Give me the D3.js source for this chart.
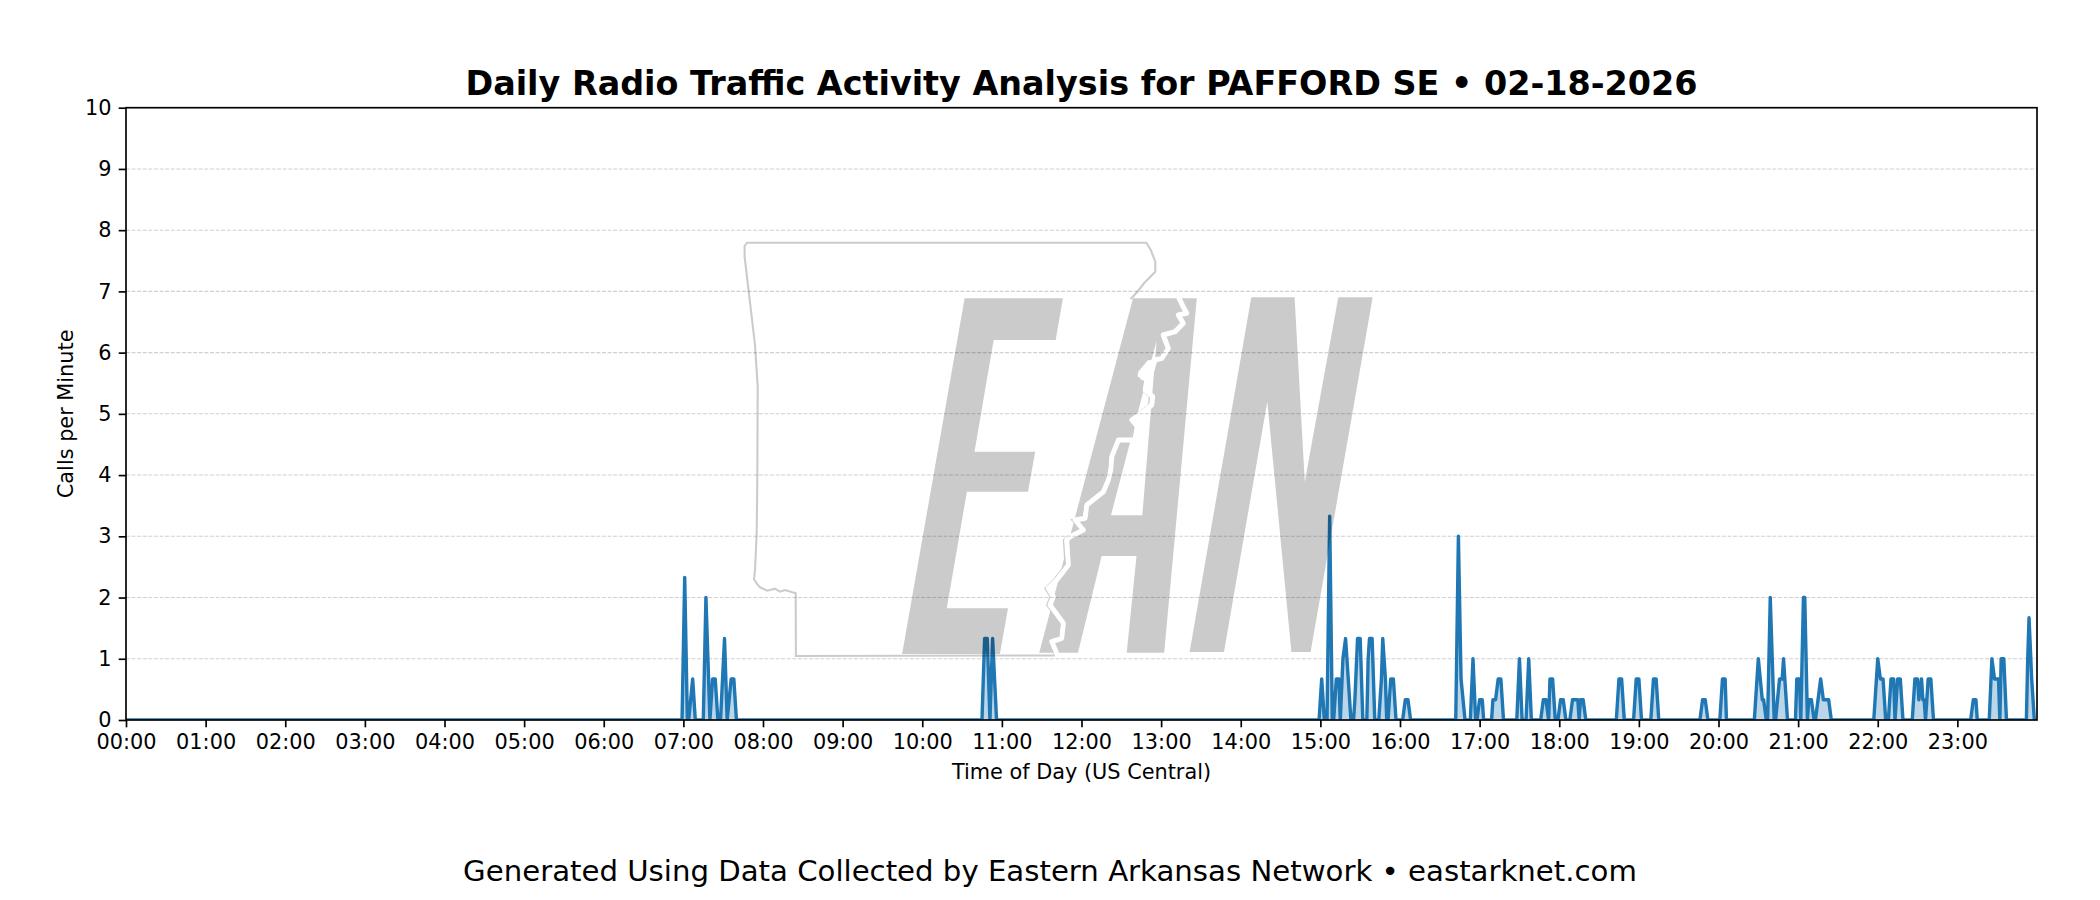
<!DOCTYPE html>
<html><head><meta charset="utf-8">
<script src="https://cdnjs.cloudflare.com/ajax/libs/d3/7.9.0/d3.min.js"></script>
<style>html,body{margin:0;padding:0;background:#fff}svg{display:block}text{font-family:"DejaVu Sans",sans-serif;fill:#000}</style>
</head><body><svg id="c" width="2100" height="900"></svg>
<script>
const titleText="Daily Radio Traffic Activity Analysis for PAFFORD SE \u2022 02-18-2026";
const footerText="Generated Using Data Collected by Eastern Arkansas Network \u2022 eastarknet.com";
const xLabel="Time of Day (US Central)";
const yLabel="Calls per Minute";
const hourTicks=d3.range(0,24);
const yTicks=d3.range(0,11);
// minutes since midnight, and calls per minute at that minute
const minutes=[0,419,421,423,424,427,429,435,437,440,442,444,446,448,451,453,456,458,460,
645,647,649,651,653,656,
899,901,903,905,907,909,910,912,914,915,917,919,921,923,925,926,928,930,932,935,936,937,939,941,944,946,947,949,950,951,953,955,957,
962,964,966,968,1002,1004,1006,1009,1013,1015,1017,1018,1020,1022,1023,1029,1030,1032,1034,1036,1038,
1048,1050,1052,1055,1057,1059,1066,1068,1070,1072,1073,1075,1077,1079,1081,1083,1085,1088,1090,1092,1094,1095,1096,1098,1100,
1123,1125,1127,1129,1136,1138,1140,1142,1149,1151,1153,1155,1186,1188,1190,1192,1201,1203,1205,1206,
1227,1230,1233,1234,1236,1237,1239,1242,1243,1246,1248,1249,1252,1258,1259,1261,1262,1264,1265,1267,1268,1270,1272,1273,1275,1277,1279,1281,1283,1285,
1317,1320,1322,1324,1326,1328,1330,1332,1333,1335,1337,1339,1346,1348,1350,1351,1353,1354,1355,1356,1358,1360,1362,
1390,1392,1394,1395,1404,1406,1408,1410,1411,1412,1413,1415,1417,1432,1433,1434,1436,1438,1439];
const callsPerMinute=[0,0,2.33,0,0,0.67,0,0,2,0,0.67,0.67,0,0,1.33,0,0.67,0.67,0,
0,1.33,1.33,0,1.33,0,
0,0.67,0,0,3.33,0,0,0.67,0.67,0,1,1.33,0.67,0,0,0.33,1.33,1.33,0,0,1,1.33,1.33,0,0,0.67,1.33,0.67,0,0,0.67,0.67,0,
0,0.33,0.33,0,0,3,0.67,0,0,1,0,0,0.33,0.33,0,0,0.33,0.33,0.67,0.67,0,
0,1,0,0,1,0,0,0.33,0.33,0,0.67,0.67,0,0,0.33,0.33,0,0,0.33,0.33,0.33,0,0.33,0.33,0,
0,0.67,0.67,0,0,0.67,0.67,0,0,0.67,0.67,0,0,0.33,0.33,0,0,0.67,0.67,0,
0,1,0.33,0.33,0,0,2,0,0,0.67,0.67,1,0,0,0.67,0.67,0,2,2,0,0.33,0.33,0,0,0.33,0.67,0.33,0.33,0.33,0,
0,1,0.67,0.67,0,0,0.67,0.67,0,0.67,0.67,0,0,0.67,0.67,0.33,0.67,0.33,0.33,0,0.67,0.67,0,
0,0.33,0.33,0,0,1,0.67,0.67,0.67,0,1,1,0,0,1,1.67,0.67,0,0];
// Watermark outline, in page pixels
const letterE=[[964.6,298.3],[1062.9,298.3],[1055.7,340],[993.7,340],[974.5,451.7],[1035.2,451.7],[1028,491.7],[966.9,491.7],[946.8,608.3],[1008,608.3],[999.9,654],[902.1,654]];
const letterA=[[1133,298.3],[1196.8,298.3],[1164.2,652.7],[1126.7,652.7],[1136.5,556],[1101.7,556],[1078,652.7],[1039.2,652.7]];
const letterACounter=[[1156.6,340.7],[1142.3,515.3],[1111,515.3]];
const letterN=[[1251.3,297.3],[1294.6,297.3],[1304.8,481.7],[1338.3,297.3],[1372.7,297.3],[1310.6,652],[1291.4,652],[1267.3,401.7],[1224,652],[1189.6,652]];
const river=[[1178.3,296.7],[1184,308.3],[1186.7,313.3],[1178.3,315],[1183.3,323.3],[1175,331.7],[1163.3,335],[1168.3,348.3],[1161.7,358.3],[1155,360],[1150,363.3],[1140,375],[1146.7,380],[1145,390],[1152.7,396.7],[1151.7,405],[1143.3,411.7],[1131.7,420],[1137.3,426.7],[1135,440],[1118.3,440],[1111.7,456.7],[1110.7,470],[1108.3,480],[1103.3,491.7],[1086.7,505],[1085,518.3],[1075,520],[1083.3,530],[1070,536.7],[1066.7,540],[1068.3,565],[1056.7,580],[1048.3,588.3],[1053.3,596.7],[1050,605],[1063.3,623.3],[1061.7,638.3],[1051.7,641.7],[1056.7,653.3]];
const lake=[[1148,360],[1157,362],[1152,378],[1141,380],[1138,372]];
const stateWest=[[1054.8,655.5],[795.9,656],[795.7,593.3],[785,590],[780,591.7],[775,588.7],[767.3,590.7],[760,587.3],[756.7,583.3],[754,579.3],[755,570],[756.7,533],[757.3,480],[757.7,386.7],[755,345],[751.3,313.3],[744.6,256.7],[744.6,246],[747,242.7],[1146.3,242.7],[1150.8,250],[1155.3,261.7],[1155.3,271.7],[1144,283.3],[1137.4,291.7],[1130.7,299]];

const m={l:126,r:2037,t:107.7,b:720};
const svg=d3.select("#c");
const x=d3.scaleLinear().domain([0,1440]).range([m.l,m.r]);
const y=d3.scaleLinear().domain([0,10]).range([m.b,m.t]);
const series=minutes.map((t,i)=>({t,v:callsPerMinute[i]}));
const defs=svg.append("defs");
defs.append("clipPath").attr("id","plot").append("rect").attr("x",m.l).attr("y",m.t).attr("width",m.r-m.l).attr("height",m.b-m.t);

// grid
svg.append("g").selectAll("line").data(yTicks.slice(1,-1)).join("line")
 .attr("x1",m.l).attr("x2",m.r).attr("y1",d=>y(d)).attr("y2",d=>y(d))
 .attr("stroke","#b0b0b0").attr("stroke-opacity",0.6).attr("stroke-width",1.04).attr("stroke-dasharray","3.9,1.7");

// data
const plot=svg.append("g").attr("clip-path","url(#plot)");
plot.append("path").attr("d",d3.area().x(d=>x(d.t)).y0(y(0)).y1(d=>y(d.v))(series))
 .attr("fill","#1f77b4").attr("fill-opacity",0.3);
plot.append("path").attr("d",d3.line().x(d=>x(d.t)).y(d=>y(d.v))(series))
 .attr("fill","none").attr("stroke","#1f77b4").attr("stroke-width",3.4).attr("stroke-linejoin","round");

// watermark, drawn over the data at low opacity
const mask=defs.append("mask").attr("id","band").attr("maskUnits","userSpaceOnUse").attr("x",0).attr("y",0).attr("width",2100).attr("height",900);
mask.append("rect").attr("width",2100).attr("height",900).attr("fill","#fff");
const ln=d3.line();
mask.append("path").attr("d",ln(river)).attr("fill","none").attr("stroke","#000").attr("stroke-width",5).attr("stroke-linejoin","round");
mask.append("path").attr("d",ln(lake)+"Z").attr("fill","#000");
const logo=svg.append("g").attr("opacity",0.2);
logo.append("path").attr("mask","url(#band)").attr("fill","#000").attr("fill-rule","evenodd")
 .attr("d",ln(letterE)+"Z"+ln(letterA)+"Z"+ln(letterACounter)+"Z"+ln(letterN)+"Z");
logo.append("path").attr("d",ln(stateWest)).attr("fill","none").attr("stroke","#000").attr("stroke-width",2.1);
logo.append("path").attr("mask","url(#band)").attr("d",ln(river.filter(p=>p[1]>335).map(p=>[p[0]-3,p[1]]))).attr("fill","none").attr("stroke","#000").attr("stroke-width",1.8);

// axes
const xAxis=d3.axisBottom(x).tickValues(hourTicks.map(h=>h*60)).tickFormat(d=>String(d/60).padStart(2,"0")+":00").tickSize(7.3).tickPadding(7.3);
const yAxis=d3.axisLeft(y).tickValues(yTicks).tickFormat(d3.format("d")).tickSize(7.3).tickPadding(7.3);
const gx=svg.append("g").attr("transform",`translate(0,${m.b})`).call(xAxis);
const gy=svg.append("g").attr("transform",`translate(${m.l},0)`).call(yAxis);
[gx,gy].forEach(g=>{g.select(".domain").remove();g.selectAll("line").attr("stroke","#000").attr("stroke-width",1.67);g.selectAll("text").attr("font-size",20.83).attr("font-family","DejaVu Sans").attr("fill","#000");});
svg.append("rect").attr("x",m.l).attr("y",m.t).attr("width",m.r-m.l).attr("height",m.b-m.t).attr("fill","none").attr("stroke","#000").attr("stroke-width",1.67);

// texts
svg.append("text").attr("x",(m.l+m.r)/2).attr("y",95).attr("text-anchor","middle").attr("font-size",33.4).attr("font-weight","bold").text(titleText);
svg.append("text").attr("x",(m.l+m.r)/2).attr("y",779).attr("text-anchor","middle").attr("font-size",20.83).text(xLabel);
svg.append("text").attr("transform",`translate(73,${(m.t+m.b)/2}) rotate(-90)`).attr("text-anchor","middle").attr("font-size",20.83).text(yLabel);
svg.append("text").attr("x",1050).attr("y",881).attr("text-anchor","middle").attr("font-size",29.2).text(footerText);
</script></body></html>
